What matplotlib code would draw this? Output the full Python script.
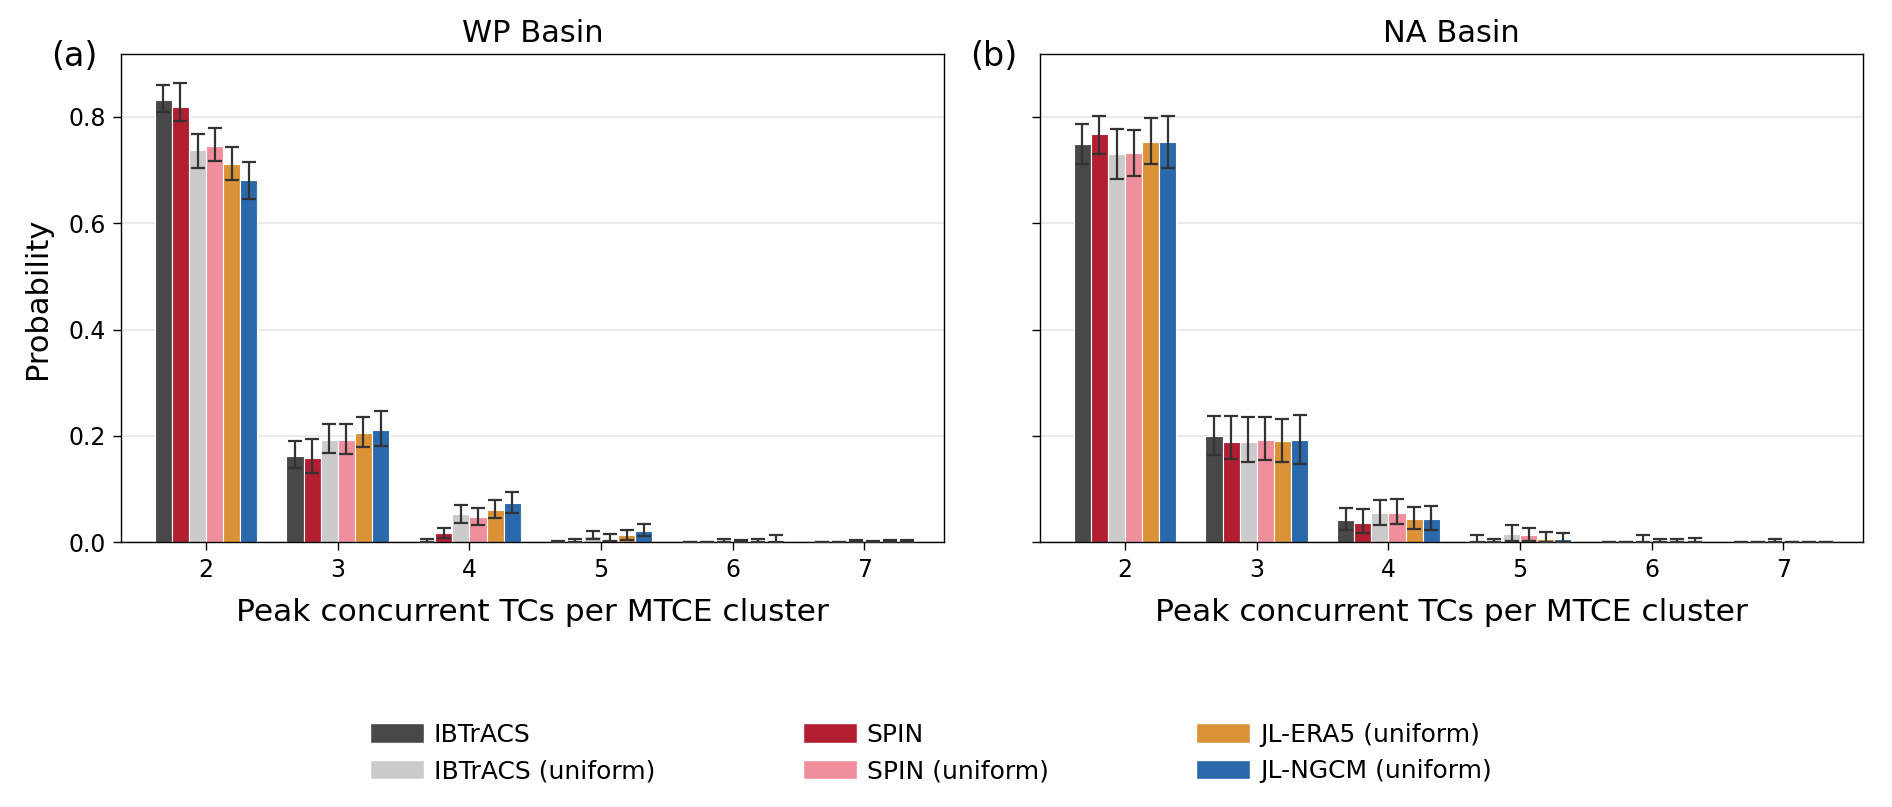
import numpy as np
import matplotlib
matplotlib.use("Agg")
import matplotlib.pyplot as plt
from matplotlib.patches import Patch

categories = [2, 3, 4, 5, 6, 7]
series = ["IBTrACS", "SPIN", "IBTrACS (uniform)", "SPIN (uniform)", "JL-ERA5 (uniform)", "JL-NGCM (uniform)"]
colors = ["#484848", "#b31f31", "#cbcbcb", "#f08e9c", "#db9236", "#2a69ab"]

# WP basin: values, lower and upper bounds of error bars
wp_vals = {
    "IBTrACS":           [0.832, 0.163, 0.003, 0.001, 0.000, 0.000],
    "SPIN":              [0.818, 0.159, 0.018, 0.003, 0.000, 0.000],
    "IBTrACS (uniform)": [0.737, 0.193, 0.053, 0.011, 0.003, 0.003],
    "SPIN (uniform)":    [0.746, 0.193, 0.047, 0.007, 0.002, 0.001],
    "JL-ERA5 (uniform)": [0.711, 0.206, 0.061, 0.013, 0.002, 0.002],
    "JL-NGCM (uniform)": [0.681, 0.211, 0.074, 0.022, 0.005, 0.002],
}
wp_lo = {
    "IBTrACS":           [0.810, 0.139, 0.000, 0.000, 0.000, 0.000],
    "SPIN":              [0.792, 0.131, 0.008, 0.000, 0.000, 0.000],
    "IBTrACS (uniform)": [0.703, 0.168, 0.036, 0.006, 0.000, 0.000],
    "SPIN (uniform)":    [0.717, 0.166, 0.033, 0.003, 0.000, 0.000],
    "JL-ERA5 (uniform)": [0.682, 0.180, 0.045, 0.005, 0.000, 0.000],
    "JL-NGCM (uniform)": [0.645, 0.182, 0.055, 0.011, 0.000, 0.000],
}
wp_hi = {
    "IBTrACS":           [0.860, 0.190, 0.006, 0.002, 0.000, 0.000],
    "SPIN":              [0.864, 0.195, 0.027, 0.006, 0.000, 0.000],
    "IBTrACS (uniform)": [0.768, 0.222, 0.070, 0.022, 0.006, 0.005],
    "SPIN (uniform)":    [0.779, 0.223, 0.064, 0.016, 0.004, 0.002],
    "JL-ERA5 (uniform)": [0.744, 0.236, 0.080, 0.024, 0.006, 0.004],
    "JL-NGCM (uniform)": [0.716, 0.247, 0.094, 0.035, 0.013, 0.004],
}

# NA basin
na_vals = {
    "IBTrACS":           [0.749, 0.199, 0.042, 0.005, 0.000, 0.000],
    "SPIN":              [0.768, 0.188, 0.037, 0.003, 0.000, 0.000],
    "IBTrACS (uniform)": [0.730, 0.188, 0.056, 0.016, 0.003, 0.001],
    "SPIN (uniform)":    [0.732, 0.192, 0.056, 0.013, 0.001, 0.000],
    "JL-ERA5 (uniform)": [0.753, 0.190, 0.044, 0.006, 0.001, 0.000],
    "JL-NGCM (uniform)": [0.752, 0.192, 0.044, 0.007, 0.001, 0.000],
}
na_lo = {
    "IBTrACS":           [0.711, 0.164, 0.024, 0.000, 0.000, 0.000],
    "SPIN":              [0.730, 0.157, 0.017, 0.000, 0.000, 0.000],
    "IBTrACS (uniform)": [0.683, 0.151, 0.033, 0.003, 0.000, 0.000],
    "SPIN (uniform)":    [0.689, 0.154, 0.035, 0.003, 0.000, 0.000],
    "JL-ERA5 (uniform)": [0.711, 0.151, 0.025, 0.001, 0.000, 0.000],
    "JL-NGCM (uniform)": [0.703, 0.148, 0.024, 0.001, 0.000, 0.000],
}
na_hi = {
    "IBTrACS":           [0.787, 0.238, 0.065, 0.013, 0.000, 0.000],
    "SPIN":              [0.802, 0.237, 0.062, 0.007, 0.000, 0.000],
    "IBTrACS (uniform)": [0.777, 0.235, 0.080, 0.033, 0.014, 0.007],
    "SPIN (uniform)":    [0.775, 0.235, 0.082, 0.027, 0.007, 0.000],
    "JL-ERA5 (uniform)": [0.797, 0.232, 0.067, 0.019, 0.006, 0.000],
    "JL-NGCM (uniform)": [0.802, 0.240, 0.069, 0.018, 0.008, 0.000],
}

titles = ["WP Basin", "NA Basin"]
panel_labels = ["(a)", "(b)"]
xlabel = "Peak concurrent TCs per MTCE cluster"
ylabel = "Probability"
yticks = [0.0, 0.2, 0.4, 0.6, 0.8]

plt.rcParams['font.family'] = ['DejaVu Sans']

fig = plt.figure(figsize=(18.92, 8.07), dpi=100)
ax1 = fig.add_axes([0.064, 0.328, 0.435, 0.605])
ax2 = fig.add_axes([0.5497, 0.328, 0.435, 0.605], sharey=ax1)
axes = [ax1, ax2]

width = 0.13
x = np.arange(len(categories)) + categories[0]
datasets = [(wp_vals, wp_lo, wp_hi), (na_vals, na_lo, na_hi)]

for ax, (vals, lo, hi), title, pl in zip(axes, datasets, titles, panel_labels):
    ax.set_axisbelow(True)
    ax.yaxis.grid(True, color="#e6e6e6", linewidth=1.2)
    for i, s in enumerate(series):
        v = np.array(vals[s])
        l = np.array(lo[s])
        h = np.array(hi[s])
        xpos = x + (i - 2.5) * width
        ax.bar(xpos, v, width=width, color=colors[i], edgecolor="white",
               linewidth=0.8, label=s, zorder=2)
        err = np.vstack([np.clip(v - l, 0, None), np.clip(h - v, 0, None)])
        ax.errorbar(xpos, v, yerr=err, fmt="none", ecolor="#333333",
                    elinewidth=1.6, capsize=5, capthick=1.6, zorder=3)
    ax.set_xticks(x)
    ax.set_xticklabels([str(c) for c in categories])
    ax.set_xlim(1.354, 7.605)
    ax.set_ylim(0, 0.918)
    ax.set_yticks(yticks)
    ax.tick_params(axis="both", labelsize=17, length=6, width=1, pad=5)
    ax.set_xlabel(xlabel, fontsize=22.5, labelpad=12)
    ax.set_title(title, fontsize=22, pad=9)
    for sp in ax.spines.values():
        sp.set_linewidth(1.0)
    ax.text(-0.085, 0.995, pl, transform=ax.transAxes, fontsize=24,
            ha="left", va="center")

ax1.set_ylabel(ylabel, fontsize=22, labelpad=12)
plt.setp(ax2.get_yticklabels(), visible=False)

handles = [Patch(facecolor=colors[series.index(s)], edgecolor="white", label=s)
           for s in ["IBTrACS", "IBTrACS (uniform)", "SPIN", "SPIN (uniform)",
                     "JL-ERA5 (uniform)", "JL-NGCM (uniform)"]]
fig.legend(handles=handles, ncol=3, loc="center", bbox_to_anchor=(0.492, 0.067),
           frameon=False, fontsize=18, handlelength=2.16, handleheight=0.85,
           columnspacing=5.9, labelspacing=0.5, handletextpad=0.4)

fig.savefig("out.png", dpi=100)
